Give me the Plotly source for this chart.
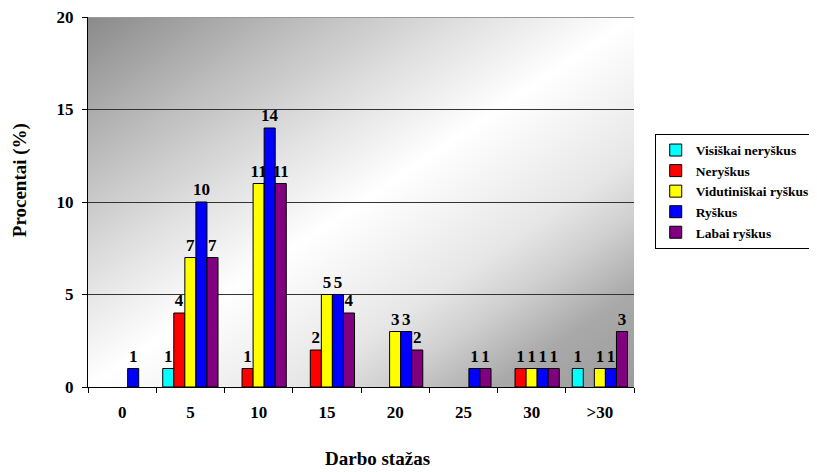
import base64
import plotly.graph_objects as go

categories = ["0", "5", "10", "15", "20", "25", "30", ">30"]
series_names = ["Visiškai neryškus", "Neryškus", "Vidutiniškai ryškus", "Ryškus", "Labai ryškus"]
visiskai_neryskus = [None, 1, None, None, None, None, None, 1]
neryskus = [None, 4, 1, 2, None, None, 1, None]
vidutiniskai_ryskus = [None, 7, 11, 5, 3, None, 1, 1]
ryskus = [1, 10, 14, 5, 3, 1, 1, 1]
labai_ryskus = [None, 7, 11, 4, 2, 1, 1, 3]
series_values = [visiskai_neryskus, neryskus, vidutiniskai_ryskus, ryskus, labai_ryskus]
colors = ["#00FFFF", "#FF0000", "#FFFF00", "#0000FF", "#800080"]
y_ticks = [0, 5, 10, 15, 20]
x_title = "Darbo stažas"
y_title = "Procentai (%)"

FONT = "Liberation Serif"

svg = (
    '<svg xmlns="http://www.w3.org/2000/svg" width="546" height="370" viewBox="0 0 546 370" preserveAspectRatio="none">'
    '<defs><linearGradient id="g" x1="0" y1="0" x2="1" y2="1">'
    '<stop offset="0" stop-color="#8a8a8a"/>'
    '<stop offset="0.2" stop-color="#bdbdbd"/>'
    '<stop offset="0.36" stop-color="#e2e2e2"/>'
    '<stop offset="0.5" stop-color="#ffffff"/>'
    '<stop offset="0.6" stop-color="#f2f2f2"/>'
    '<stop offset="0.69" stop-color="#e6e6e6"/>'
    '<stop offset="0.77" stop-color="#cfcfcf"/>'
    '<stop offset="0.87" stop-color="#a9a9a9"/>'
    '<stop offset="1" stop-color="#9c9c9c"/>'
    '</linearGradient></defs>'
    '<rect x="0" y="0" width="546" height="370" fill="url(#g)"/></svg>'
)
uri = "data:image/svg+xml;base64," + base64.b64encode(svg.encode()).decode()

fig = go.Figure()
for name, vals, col in zip(series_names, series_values, colors):
    fig.add_trace(go.Bar(
        x=categories, y=vals, name=name,
        marker=dict(color=col, line=dict(color="black", width=1)),
        text=[("" if v is None else str(v)) for v in vals],
        textposition="outside", constraintext="none", cliponaxis=False,
        textfont=dict(family=FONT, size=17, color="black", weight="bold"),
        legendgroup=name,
    ))

# page body has an 8px default margin, so the figure is 8px smaller and offsets shifted
fig.update_layout(
    width=809, height=464,
    margin=dict(l=80, r=183, t=9, b=85, autoexpand=False),
    paper_bgcolor="white", plot_bgcolor="rgba(0,0,0,0)",
    barmode="group", bargap=0.19, bargroupgap=0,
    font=dict(family=FONT, size=17, color="black", weight="bold"),
    images=[dict(source=uri, xref="paper", yref="paper", x=0, y=1, sizex=1, sizey=1,
                 xanchor="left", yanchor="top", sizing="stretch", layer="below")],
    legend=dict(x=1.331, xanchor="right", y=0.529, yanchor="middle",
                bgcolor="white", bordercolor="black", borderwidth=1,
                font=dict(family=FONT, size=13.5, color="black", weight="bold"),
                tracegroupgap=4, traceorder="normal"),
    showlegend=True,
    annotations=[
        dict(text=x_title, xref="paper", yref="paper", x=0.531, y=-0.192,
             xanchor="center", yanchor="middle", showarrow=False,
             font=dict(family=FONT, size=19, color="black", weight="bold")),
        dict(text=y_title, xref="paper", yref="paper", x=-0.1245, y=0.559,
             xanchor="center", yanchor="middle", showarrow=False, textangle=-90,
             font=dict(family=FONT, size=19, color="black", weight="bold")),
    ],
)
fig.update_xaxes(
    type="category", showline=True, linecolor="black", linewidth=1,
    ticks="outside", ticklen=5, tickcolor="black", tickson="boundaries",
    showgrid=False, tickfont=dict(family=FONT, size=17, weight="bold"), automargin=False,
    ticklabelstandoff=10,
)
fig.update_yaxes(
    range=[0, 20], tickvals=y_ticks, showline=True, linecolor="black", linewidth=1,
    ticks="outside", ticklen=5, tickcolor="black",
    showgrid=True, gridcolor="#333333", gridwidth=1, zeroline=False,
    tickfont=dict(family=FONT, size=17, weight="bold"), automargin=False,
    ticklabelstandoff=5, ticklabeloverflow="allow",
)
fig.add_shape(type="line", xref="paper", yref="y", x0=0, x1=1, y0=20, y1=20,
              line=dict(color="#9a9a9a", width=2), layer="above")

fig.write_html("out.html")
